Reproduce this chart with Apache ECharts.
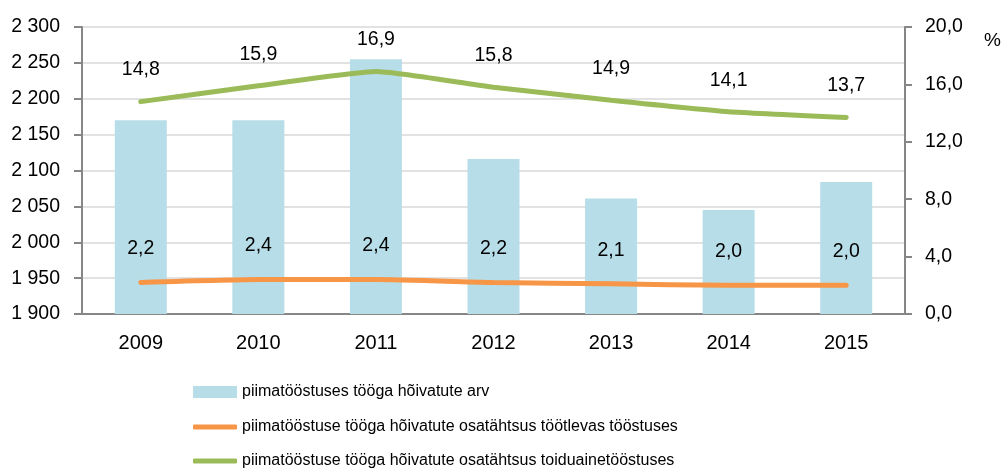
<!DOCTYPE html>
<html>
<head>
<meta charset="utf-8">
<script src="https://cdn.jsdelivr.net/npm/echarts@6/dist/echarts.min.js"></script>
<style>
  html, body { margin: 0; padding: 0; background: #fff; }
  #chart { width: 1002px; height: 471px; }
</style>
</head>
<body>
<div id="chart"></div>
<script>
var years = ['2009', '2010', '2011', '2012', '2013', '2014', '2015'];
var employed = [2170, 2170, 2255, 2116, 2061, 2045, 2084];
var shareManufacturing = [2.2, 2.4, 2.4, 2.2, 2.1, 2.0, 2.0];
var shareFood = [14.8, 15.9, 16.9, 15.8, 14.9, 14.1, 13.7];
var seriesNames = [
    'piimatööstuses tööga hõivatute arv',
    'piimatööstuse tööga hõivatute osatähtsus töötlevas tööstuses',
    'piimatööstuse tööga hõivatute osatähtsus toiduainetööstuses'
];

var font = '"Liberation Sans", Arial, sans-serif';
var axisColor = '#868686';

function commaFmt(v) {
    return Number(v).toFixed(1).replace('.', ',');
}

var myChart = echarts.init(document.getElementById('chart'));

var option = {
    animation: false,
    textStyle: { fontFamily: font },
    grid: { left: 82, right: 97, top: 27, bottom: 157 },
    legend: [0, 1, 2].map(function (i) {
        return {
            orient: 'vertical',
            left: 193,
            top: [384, 419, 453][i],
            padding: 0,
            data: [{ name: seriesNames[i], icon: i === 0 ? 'rect' : 'roundRect' }],
            itemWidth: 44,
            itemHeight: i === 0 ? 12 : 5,
            textStyle: { fontFamily: font, fontSize: 16, color: '#000' }
        };
    }),
    xAxis: {
        type: 'category',
        data: years,
        axisLine: { lineStyle: { color: axisColor, width: 2 } },
        axisTick: { length: 7, lineStyle: { color: axisColor, width: 2 } },
        axisLabel: { color: '#000', fontSize: 20, margin: 19, fontFamily: font }
    },
    yAxis: [{
        type: 'value',
        min: 1900,
        max: 2300,
        interval: 50,
        axisLine: { show: true, lineStyle: { color: axisColor, width: 2 } },
        axisTick: { show: true, length: 8, lineStyle: { color: axisColor, width: 2 } },
        axisLabel: {
            color: '#000', fontSize: 19.5, margin: 22, fontFamily: font,
            formatter: function (v) { return String(v).replace(/\B(?=(\d{3})+(?!\d))/g, ' '); }
        },
        splitLine: { lineStyle: { color: '#d9d9d9', width: 1.5 } }
    }, {
        type: 'value',
        min: 0,
        max: 20,
        interval: 4,
        position: 'right',
        axisLine: { show: true, lineStyle: { color: axisColor, width: 2 } },
        axisTick: { show: true, length: 7, lineStyle: { color: axisColor, width: 2 } },
        axisLabel: { color: '#000', fontSize: 19.5, margin: 20, fontFamily: font, formatter: commaFmt },
        splitLine: { show: false }
    }],
    graphic: [{
        type: 'text',
        left: 984,
        top: 31,
        style: { text: '%', font: '19px ' + font, fill: '#000' }
    }],
    series: [{
        name: seriesNames[0],
        type: 'bar',
        data: employed,
        barWidth: 52,
        itemStyle: { color: '#b7dde8' },
        z: 1
    }, {
        name: seriesNames[1],
        type: 'line',
        yAxisIndex: 1,
        data: shareManufacturing,
        smooth: 0.15,
        symbol: 'circle',
        symbolSize: 1,
        itemStyle: { color: '#f79646' },
        lineStyle: { color: '#f79646', width: 5, cap: 'round' },
        label: {
            show: true, position: 'top', distance: 23,
            color: '#000', fontSize: 19.5, fontFamily: font,
            formatter: function (p) { return commaFmt(p.value); }
        },
        z: 3
    }, {
        name: seriesNames[2],
        type: 'line',
        yAxisIndex: 1,
        data: shareFood,
        smooth: 0.15,
        symbol: 'circle',
        symbolSize: 1,
        itemStyle: { color: '#9bbb59' },
        lineStyle: { color: '#9bbb59', width: 5, cap: 'round' },
        label: {
            show: true, position: 'top', distance: 21,
            color: '#000', fontSize: 19.5, fontFamily: font,
            formatter: function (p) { return commaFmt(p.value); }
        },
        z: 3
    }]
};

myChart.setOption(option);
</script>
</body>
</html>
